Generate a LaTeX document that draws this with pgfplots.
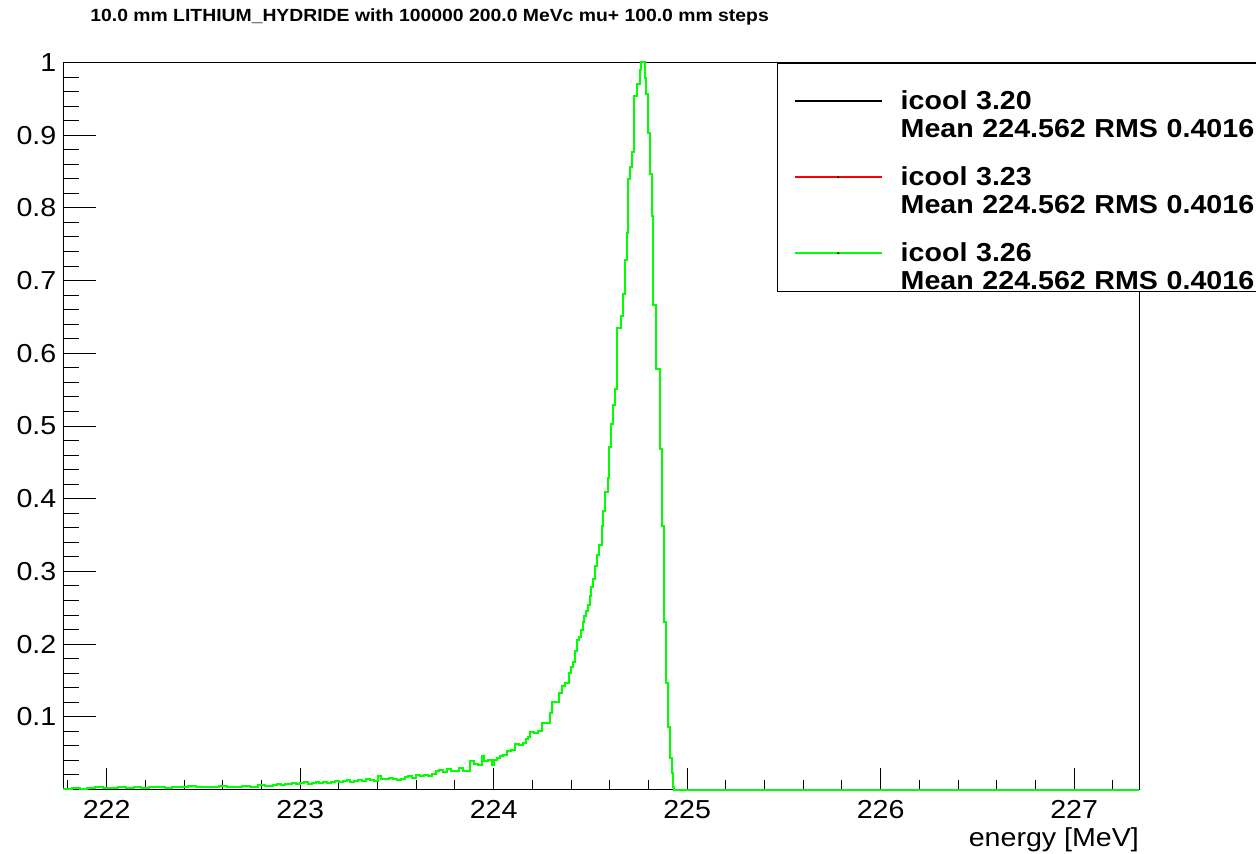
\documentclass[border=0pt]{standalone}
\usepackage{fontspec}
\setmainfont{Liberation Sans}[FakeStretch=1.1]
\usepackage{pgfplots}
\usepackage{pgfplotstable}
\pgfplotsset{compat=1.18}
\definecolor{rootgreen}{RGB}{0,255,0}
\definecolor{rootred}{RGB}{255,0,0}

% histogram: left bin edge, normalised content
\pgfplotstableread{
x y
221.776 0.001
221.82 0.002
221.86 0.001
221.90 0.002
221.94 0.003
221.98 0.002
222.02 0.002
222.06 0.003
222.10 0.002
222.14 0.004
222.18 0.002
222.22 0.003
222.26 0.003
222.30 0.002
222.34 0.004
222.38 0.003
222.42 0.005
222.46 0.003
222.50 0.004
222.54 0.003
222.58 0.005
222.62 0.004
222.66 0.003
222.70 0.005
222.74 0.004
222.78 0.006
222.82 0.005
222.86 0.006
222.88 0.007
222.90 0.006
222.92 0.008
222.94 0.007
222.96 0.009
222.98 0.008
223.00 0.009
223.02 0.010
223.04 0.008
223.06 0.009
223.08 0.010
223.10 0.009
223.12 0.010
223.14 0.009
223.16 0.011
223.18 0.012
223.20 0.011
223.22 0.012
223.24 0.013
223.26 0.011
223.28 0.012
223.30 0.013
223.32 0.012
223.34 0.014
223.36 0.013
223.38 0.012
223.40 0.019
223.42 0.015
223.44 0.014
223.46 0.016
223.48 0.014
223.50 0.013
223.52 0.015
223.54 0.017
223.56 0.018
223.58 0.016
223.60 0.020
223.62 0.019
223.64 0.020
223.66 0.018
223.68 0.021
223.70 0.026
223.72 0.027
223.74 0.024
223.76 0.028
223.78 0.025
223.80 0.026
223.82 0.030
223.84 0.025
223.86 0.025
223.88 0.039
223.90 0.035
223.92 0.034
223.94 0.046
223.95 0.039
223.97 0.041
223.99 0.034
224.00 0.040
224.02 0.043
224.035 0.046
224.05 0.048
224.07 0.053
224.09 0.055
224.11 0.062
224.13 0.061
224.15 0.064
224.165 0.069
224.18 0.072
224.19 0.079
224.21 0.078
224.23 0.081
224.25 0.091
224.27 0.092
224.29 0.105
224.30 0.120
224.32 0.121
224.34 0.133
224.355 0.142
224.37 0.146
224.39 0.160
224.40 0.168
224.41 0.176
224.42 0.190
224.43 0.206
224.44 0.210
224.45 0.220
224.46 0.230
224.466 0.238
224.475 0.245
224.489 0.254
224.496 0.266
224.504 0.279
224.513 0.289
224.523 0.307
224.532 0.323
224.544 0.337
224.558 0.362
224.566 0.383
224.575 0.409
224.589 0.428
224.597 0.471
224.608 0.503
224.617 0.529
224.627 0.551
224.639 0.635
224.660 0.652
224.668 0.681
224.677 0.729
224.688 0.766
224.696 0.840
224.706 0.856
224.717 0.877
224.727 0.954
224.739 0.970
224.755 0.989
224.763 1.000
224.782 0.979
224.789 0.956
224.796 0.903
224.807 0.846
224.817 0.789
224.826 0.666
224.838 0.578
224.859 0.469
224.869 0.362
224.878 0.230
224.890 0.147
224.902 0.086
224.912 0.043
224.921 0.023
224.927 0.004
224.934 0
227.337 0
}\histdata

\begin{document}
\begin{tikzpicture}
\begin{axis}[
  scale only axis, width=538pt, height=363.5pt,
  xmin=221.776, xmax=227.337, ymin=0, ymax=1,
  clip=false,
  axis line style={line width=0.7pt},
  /pgf/number format/assume math mode=true,
  tick align=inside, xtick pos=bottom, ytick pos=left,
  every tick/.style={black, line width=0.5pt},
  xtick={222,223,224,225,226,227},
  xticklabels={222,223,224,225,226,227},
  minor xtick={221.8,222.2,222.4,222.6,222.8,223.2,223.4,223.6,223.8,224.2,224.4,224.6,224.8,225.2,225.4,225.6,225.8,226.2,226.4,226.6,226.8,227.2},
  xtick style={/pgfplots/major tick length=11pt,/pgfplots/minor tick length=5pt},
  ytick={0,0.1,0.2,0.3,0.4,0.5,0.6,0.7,0.8,0.9,1},
  yticklabels={,0.1,0.2,0.3,0.4,0.5,0.6,0.7,0.8,0.9,1},
  minor y tick num=4,
  ytick style={/pgfplots/major tick length=16.5pt,/pgfplots/minor tick length=8pt},
  ticklabel style={font=\fontsize{13}{15}\selectfont},
  xticklabel style={anchor=base, inner sep=0pt, yshift=-14.4pt},
  yticklabel style={anchor=east, inner sep=0pt, xshift=-3.3pt},
  xlabel={energy [MeV]},
  xlabel style={at={(rel axis cs:1,0)}, anchor=base east, inner sep=0pt, yshift=-28.25pt, font=\fontsize{13}{15}\selectfont},
  legend style={at={(rel axis cs:0.6633,1)}, anchor=north west,
    draw=black, line width=0.7pt, fill=white,
    inner xsep=8pt, inner ysep=0pt, row sep=0pt, column sep=9pt,
    font=\bfseries\fontsize{13}{14.2}\selectfont,
    nodes={inner sep=0pt, minimum height=38pt, anchor=west, align=left, text width=200pt}},
  legend cell align=left,
]
\addplot[const plot mark left, draw=black, line width=1pt,
  legend image code/.code={\draw[line width=1pt,draw=black] (0pt,0pt) -- (43.5pt,0pt);}]
  table[x=x,y=y]{\histdata};
\addlegendentry{icool 3.20\\Mean 224.562 RMS 0.4016}
\addplot[const plot mark left, draw=rootred, line width=1pt,
  legend image code/.code={\draw[line width=1pt,draw=rootred] (0pt,0pt) -- (43.5pt,0pt); \fill[fill=black,draw=none] (21.75pt,0pt) circle (0.6pt);}]
  table[x=x,y=y]{\histdata};
\addlegendentry{icool 3.23\\Mean 224.562 RMS 0.4016}
\addplot[const plot mark left, draw=rootgreen, line width=1pt,
  legend image code/.code={\draw[line width=1pt,draw=rootgreen] (0pt,0pt) -- (43.5pt,0pt); \fill[fill=black,draw=none] (21.75pt,0pt) circle (0.6pt);}]
  table[x=x,y=y]{\histdata};
\addlegendentry{icool 3.26\\Mean 224.562 RMS 0.4016}
\end{axis}
\node[anchor=base west, inner sep=0pt, font=\bfseries\fontsize{8.8}{10}\selectfont]
  at ([xshift=13.35pt, yshift=20.4pt]current axis.north west)
  {10.0 mm LITHIUM\_HYDRIDE with 100000 200.0 MeVc mu+ 100.0 mm steps};
\pgfresetboundingbox
\path[use as bounding box] ([xshift=-31.65pt, yshift=-31.75pt]current axis.south west) rectangle ([xshift=58.35pt, yshift=31.25pt]current axis.north east);
\end{tikzpicture}
\end{document}
